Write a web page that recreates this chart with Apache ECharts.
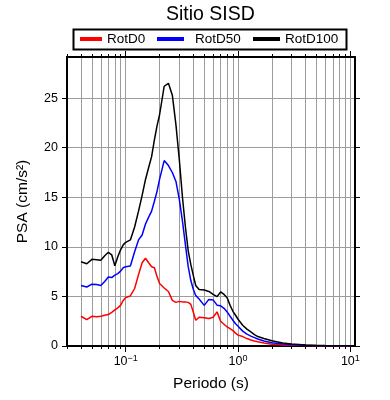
<!DOCTYPE html>
<html><head><meta charset="utf-8">
<script src="https://cdn.jsdelivr.net/npm/echarts@6/dist/echarts.min.js"></script>
<style>html,body{margin:0;padding:0;background:#fff}#c{width:390px;height:400px}</style>
</head><body><div id="c"></div><script>
const periods = [0.04,0.045,0.05,0.055,0.06,0.065,0.07,0.075,0.08,0.085,0.09,0.095,
  0.1,0.11,0.12,0.13,0.14,0.15,0.16,0.17,0.18,0.19,0.2,
  0.22,0.24,0.26,0.28,0.3,0.32,0.34,0.36,0.38,0.4,0.42,0.45,
  0.5,0.55,0.6,0.65,0.7,0.75,0.8,0.85,0.9,0.95,
  1.0,1.1,1.2,1.3,1.4,1.5,1.7,
  2.0,2.5,3,4,5,6,7,8,10];
const rotD0 = [3.0,2.65,3.0,2.95,3.0,3.1,3.17,3.4,3.65,3.85,4.1,4.6,
  4.9,5.05,5.8,7.2,8.4,8.85,8.4,8.0,7.9,7.0,6.3,
  5.85,5.5,4.6,4.4,4.5,4.45,4.45,4.4,4.2,3.4,2.6,2.9,
  2.85,2.77,2.9,3.44,2.5,2.2,1.92,1.75,1.55,1.3,
  1.1,0.95,0.75,0.6,0.5,0.42,0.3,
  0.18,0.1,0.07,0.04,0.025,0.018,0.013,0.01,0.008];
const rotD50 = [6.1,5.95,6.24,6.2,6.1,6.5,6.95,6.9,7.15,7.3,7.55,7.9,
  8.0,8.07,9.5,10.7,11.2,12.3,13.0,13.6,14.6,15.6,16.8,
  18.7,18.2,17.5,16.6,14.8,12.6,10.2,8.0,6.6,5.7,5.1,4.75,
  4.1,4.7,4.65,4.12,4.05,3.8,3.44,3.0,2.6,2.25,
  2.0,1.5,1.2,1.0,0.85,0.7,0.5,
  0.33,0.2,0.13,0.07,0.04,0.03,0.02,0.015,0.01];
const rotD100 = [8.5,8.3,8.74,8.7,8.64,9.1,9.45,9.2,8.1,9.0,9.7,10.2,
  10.46,10.7,12.0,13.6,15.2,16.8,18.0,19.1,20.8,22.2,23.3,
  26.2,26.5,25.3,22.3,18.8,15.0,12.0,9.6,8.2,7.1,6.1,5.7,
  5.65,5.5,5.2,4.98,5.45,5.2,4.86,4.1,3.5,3.1,
  2.7,2.1,1.7,1.42,1.15,0.95,0.75,
  0.52,0.3,0.2,0.1,0.06,0.04,0.03,0.02,0.015];
const seriesNames = ['RotD0','RotD50','RotD100'];
const xMajorTicks = [0.1,1,10];
const xAllTicks = [0.03,0.04,0.05,0.06,0.07,0.08,0.09,0.1,0.2,0.3,0.4,0.5,0.6,0.7,0.8,0.9,1,2,3,4,5,6,7,8,9,10];
const yTicks = [0,5,10,15,20,25];

const FONT = 'Liberation Sans';
const chart = echarts.init(document.getElementById('c'));
const zip = v => periods.map((p,i)=>[p,v[i]]);
const supLabel = v => { const e = Math.round(Math.log10(v)); return '10{s|' + (e<0 ? '\u2212'+(-e) : e) + '}'; };
const black = {color:'#000', width:2};
const xBase = {type:'log', logBase:10, min:0.03, max:11, gridIndex:0};
const gridColor = '#9c9c9c';

const option = {
  animation:false,
  title:{text:'Sitio SISD', left:166, top:5, padding:0,
    textStyle:{fontFamily:FONT, fontSize:19.5, fontWeight:'normal', color:'#000'}},
  legend:[
    {data:[seriesNames[0]], left:80, top:31, padding:0, icon:'rect', itemWidth:22, itemHeight:4,
      textStyle:{fontFamily:FONT, fontSize:13.5, color:'#000', lineHeight:16}},
    {data:[seriesNames[1]], left:157, top:31, padding:0, icon:'rect', itemWidth:27, itemHeight:4,
      textStyle:{fontFamily:FONT, fontSize:13.5, color:'#000', lineHeight:16, padding:[0,0,0,6]}},
    {data:[seriesNames[2]], left:253, top:31, padding:0, icon:'rect', itemWidth:27, itemHeight:4,
      textStyle:{fontFamily:FONT, fontSize:13.5, color:'#000', lineHeight:16}}
  ],
  graphic:[{type:'rect', shape:{x:73.5, y:29.5, width:273, height:20},
    style:{fill:'none', stroke:'#000', lineWidth:2}, z:10}],
  grid:{left:67, right:35, top:57, bottom:54},
  xAxis:[
    Object.assign({}, xBase, {position:'bottom',
      axisLine:{show:true, onZero:false, lineStyle:black},
      axisTick:{show:true, inside:false, length:3, customValues:xAllTicks, lineStyle:{color:'#000', width:1}},
      axisLabel:{show:true, customValues:xMajorTicks, formatter:supLabel, margin:8,
        fontFamily:FONT, fontSize:12.5, color:'#000', lineHeight:16,
        rich:{s:{fontFamily:FONT, fontSize:9, color:'#000', verticalAlign:'top', lineHeight:10}}},
      splitLine:{show:true, lineStyle:{color:gridColor, width:1}},
      name:'Periodo (s)', nameLocation:'middle', nameGap:30,
      nameTextStyle:{fontFamily:FONT, fontSize:15.5, color:'#000'}}),
    Object.assign({}, xBase, {position:'bottom',
      axisLine:{show:false, onZero:false},
      axisTick:{show:true, inside:false, length:6, customValues:xMajorTicks, lineStyle:{color:'#000', width:1}},
      axisLabel:{show:false}, splitLine:{show:false}}),
    Object.assign({}, xBase, {position:'top',
      axisLine:{show:true, onZero:false, lineStyle:black},
      axisTick:{show:true, inside:false, length:3, customValues:xAllTicks, lineStyle:{color:'#000', width:1}},
      axisLabel:{show:false}, splitLine:{show:false}}),
    Object.assign({}, xBase, {position:'top',
      axisLine:{show:false, onZero:false},
      axisTick:{show:true, inside:false, length:6, customValues:xMajorTicks, lineStyle:{color:'#000', width:1}},
      axisLabel:{show:false}, splitLine:{show:false}})
  ],
  yAxis:[
    {type:'value', min:0, max:29.15, position:'left',
      axisLine:{show:true, onZero:false, lineStyle:black},
      axisTick:{show:true, inside:false, length:5, customValues:yTicks, lineStyle:{color:'#000', width:1}},
      axisLabel:{customValues:yTicks, margin:9, fontFamily:FONT, fontSize:12.5, color:'#000'},
      splitLine:{show:true, lineStyle:{color:gridColor, width:1}},
      name:'PSA (cm/s\u00B2)', nameLocation:'middle', nameGap:36, nameRotate:90,
      nameTextStyle:{fontFamily:FONT, fontSize:15.5, color:'#000'}},
    {type:'value', min:0, max:29.15, position:'right',
      axisLine:{show:true, onZero:false, lineStyle:black},
      axisTick:{show:true, inside:false, length:5, customValues:yTicks, lineStyle:{color:'#000', width:1}},
      axisLabel:{show:false}, splitLine:{show:false}}
  ],
  series:[
    {name:seriesNames[0], type:'line', data:zip(rotD0), showSymbol:false, color:'#ff0000',
      lineStyle:{width:1.5, color:'#ff0000'}, xAxisIndex:0, yAxisIndex:0, z:3},
    {name:seriesNames[1], type:'line', data:zip(rotD50), showSymbol:false, color:'#0000ff',
      lineStyle:{width:1.5, color:'#0000ff'}, xAxisIndex:0, yAxisIndex:0, z:4},
    {name:seriesNames[2], type:'line', data:zip(rotD100), showSymbol:false, color:'#000000',
      lineStyle:{width:1.5, color:'#000000'}, xAxisIndex:0, yAxisIndex:0, z:5}
  ]
};
chart.setOption(option);
</script></body></html>
